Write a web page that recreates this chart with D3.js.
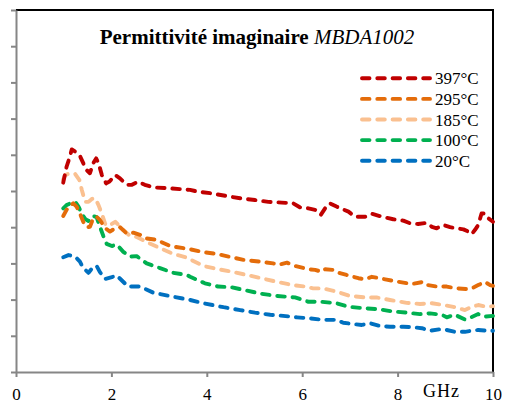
<!DOCTYPE html>
<html lang="fr">
<head>
<meta charset="utf-8">
<title>Permittivité imaginaire</title>
<script src="https://d3js.org/d3.v7.min.js"></script>
<style>
  body { margin: 0; background: #fff; }
</style>
</head>
<body>
<div id="chart"></div>
<script>
// frequency (GHz) / imaginary permittivity (arbitrary units, axis has no labels)
const s397 = [[0.99,5.23],[1.06,5.67],[1.12,5.91],[1.17,6.15],[1.24,6.09],[1.34,5.97],[1.41,5.77],[1.48,5.58],[1.55,5.49],[1.62,5.77],[1.68,5.90],[1.73,5.77],[1.80,5.44],[1.89,5.21],[1.96,5.26],[2.08,5.44],[2.18,5.35],[2.32,5.17],[2.43,5.17],[2.56,5.26],[2.70,5.17],[2.88,5.10],[3.16,5.08],[3.44,5.05],[3.65,5.03],[3.82,4.98],
  [4.07,4.94],[4.42,4.86],[4.70,4.80],[5.01,4.75],[5.29,4.70],[5.57,4.68],[5.81,4.66],[5.95,4.55],[6.13,4.52],[6.27,4.48],[6.39,4.34],[6.48,4.52],[6.58,4.66],[6.72,4.57],[6.86,4.49],[6.97,4.43],
  [7.11,4.29],[7.32,4.29],[7.46,4.37],[7.67,4.29],[7.91,4.22],[8.12,4.18],[8.26,4.11],[8.43,4.09],[8.61,4.12],[8.72,4.01],[8.82,3.97],[8.96,4.06],[9.10,4.00],[9.24,3.97],[9.38,3.94],[9.48,3.88],[9.55,3.81],[9.62,3.92],[9.69,4.06],[9.76,4.38],[9.83,4.38],[9.90,4.25],[10.0,4.15]];
const s295 = [[0.99,4.31],[1.06,4.48],[1.13,4.59],[1.20,4.66],[1.27,4.57],[1.34,4.38],[1.41,4.15],[1.48,4.00],[1.55,4.01],[1.62,4.25],[1.69,4.29],[1.76,4.20],[1.87,3.97],[1.97,3.88],[2.08,3.97],[2.18,4.00],[2.32,3.83],[2.46,3.85],[2.60,3.79],[2.74,3.69],[2.95,3.65],[3.23,3.48],[3.51,3.42],[3.65,3.39],[3.89,3.32],[4.21,3.26],[4.52,3.17],[4.80,3.09],[5.12,3.05],[5.39,3.00],[5.50,2.96],[5.68,3.02],[5.85,2.93],[6.13,2.84],[6.27,2.82],[6.41,2.77],[6.48,2.84],[6.65,2.82],[6.79,2.73],[6.93,2.68],[7.18,2.59],[7.32,2.56],[7.46,2.63],[7.74,2.56],[8.02,2.49],[8.30,2.43],[8.54,2.49],[8.64,2.40],[8.82,2.36],[9.03,2.36],[9.24,2.31],[9.45,2.29],[9.55,2.31],[9.69,2.40],[9.83,2.49],[9.94,2.40],[10.0,2.38]];
const s185 = [[0.99,5.32],[1.03,5.44],[1.13,5.49],[1.24,5.47],[1.33,5.30],[1.38,5.03],[1.45,4.70],[1.52,4.70],[1.59,4.78],[1.66,4.80],[1.73,4.61],[1.80,4.37],[1.87,4.09],[1.94,4.03],[2.08,4.15],[2.15,4.06],[2.25,3.92],[2.39,3.76],[2.53,3.73],[2.74,3.59],[3.02,3.42],[3.30,3.26],[3.58,3.16],[3.65,3.11],[3.93,2.93],[4.24,2.84],[4.52,2.77],[4.84,2.68],[5.15,2.59],[5.47,2.49],[5.81,2.40],[6.06,2.36],[6.23,2.31],[6.44,2.31],[6.72,2.22],[7.00,2.10],[7.32,2.06],[7.56,2.06],[7.84,1.99],[8.19,1.91],[8.47,1.88],[8.72,1.90],[8.96,1.85],[9.17,1.80],[9.41,1.71],[9.55,1.80],[9.69,1.85],[9.87,1.80],[10.0,1.82]];
const s100 = [[0.99,4.52],[1.06,4.61],[1.17,4.68],[1.24,4.70],[1.31,4.57],[1.38,4.37],[1.45,4.23],[1.52,4.17],[1.61,4.31],[1.69,4.28],[1.76,4.01],[1.83,3.76],[1.90,3.54],[2.01,3.48],[2.11,3.52],[2.25,3.32],[2.39,3.19],[2.53,3.20],[2.74,3.00],[3.02,2.87],[3.30,2.74],[3.58,2.68],[3.65,2.63],[3.96,2.45],[4.24,2.36],[4.52,2.34],[4.84,2.25],[5.15,2.16],[5.47,2.10],[5.85,2.06],[6.13,1.94],[6.41,1.94],[6.72,1.90],[6.97,1.80],[7.32,1.76],[7.63,1.73],[7.91,1.67],[8.19,1.64],[8.47,1.60],[8.68,1.62],[8.93,1.58],[9.03,1.51],[9.20,1.58],[9.41,1.45],[9.52,1.50],[9.69,1.60],[9.83,1.53],[10.0,1.55]];
const s20 = [[0.99,3.17],[1.10,3.23],[1.24,3.19],[1.34,3.05],[1.41,2.87],[1.52,2.74],[1.62,2.91],[1.69,2.93],[1.76,2.76],[1.87,2.57],[2.01,2.62],[2.11,2.67],[2.35,2.36],[2.60,2.36],[2.88,2.19],[3.30,2.08],[3.65,1.99],[3.93,1.90],[4.35,1.79],[4.70,1.71],[5.01,1.64],[5.33,1.58],[5.60,1.55],[5.89,1.51],[6.16,1.48],[6.44,1.44],[6.72,1.44],[6.86,1.36],[7.04,1.33],[7.25,1.30],[7.42,1.35],[7.63,1.27],[7.84,1.25],[8.12,1.25],[8.30,1.24],[8.51,1.21],[8.68,1.14],[8.89,1.18],[9.03,1.16],[9.20,1.11],[9.41,1.11],[9.55,1.14],[9.69,1.16],[9.87,1.14],[10.0,1.14]];

const labels = ["397°C", "295°C", "185°C", "100°C", "20°C"];
const colors = ["#C00000", "#E46C0A", "#FAC090", "#00B050", "#0070C0"];
const series = [s397, s295, s185, s100, s20];
const xTicks = [0, 2, 4, 6, 8, 10];

const W = 507, H = 405;
const serif = "'Liberation Serif', 'Times New Roman', serif";

const svg = d3.select("#chart").append("svg")
    .attr("width", W)
    .attr("height", H)
    .style("font-family", serif);

const x = d3.scaleLinear().domain([0, 10]).range([16, 493]);
const y = d3.scaleLinear().domain([0, 10]).range([372, 10]);

// plot frame (top / right in black)
svg.append("path")
    .attr("d", `M${x(0)},${y(10)}H${x(10)}V${y(0)}`)
    .attr("fill", "none")
    .attr("stroke", "#000")
    .attr("stroke-width", 2);

// y axis, no labels
const gy = svg.append("g")
    .attr("transform", `translate(${x(0)},0)`)
    .call(d3.axisLeft(y).ticks(10).tickSize(5).tickSizeOuter(0).tickFormat(""));

// x axis
const gx = svg.append("g")
    .attr("transform", `translate(0,${y(0)})`)
    .call(d3.axisBottom(x).tickValues(xTicks).tickSize(5).tickSizeOuter(0).tickPadding(11).tickFormat(d3.format("d")));

[gx, gy].forEach(g => {
    g.attr("font-family", null);
    g.select(".domain").attr("stroke", "#868686").attr("stroke-width", 2);
    g.selectAll(".tick line").attr("stroke", "#868686").attr("stroke-width", 2);
});
gx.selectAll(".tick text")
    .style("font-family", serif)
    .style("font-size", "17px")
    .attr("fill", "#000");

svg.append("text")
    .attr("x", 423)
    .attr("y", 397)
    .style("font-family", serif)
    .style("font-size", "18px")
    .attr("letter-spacing", 1)
    .text("GHz");

// curves
const line = d3.line()
    .x(d => x(d[0]))
    .y(d => y(d[1]));

svg.selectAll(".curve")
    .data(series.slice().reverse())
    .join("path")
    .attr("class", "curve")
    .attr("d", line)
    .attr("fill", "none")
    .attr("stroke", (d, i) => colors[colors.length - 1 - i])
    .attr("stroke-width", 3.9)
    .attr("stroke-dasharray", "7.5,7.8")
    .attr("stroke-linecap", "round")
    .attr("stroke-linejoin", "round");

// title
const title = svg.append("text")
    .attr("x", 257)
    .attr("y", 44)
    .attr("text-anchor", "middle")
    .style("font-family", serif)
    .style("font-size", "21px");
title.append("tspan").style("font-weight", "bold").text("Permittivité imaginaire ");
title.append("tspan").style("font-style", "italic").text("MBDA1002");

// legend
const leg = svg.selectAll(".leg")
    .data(labels)
    .join("g")
    .attr("class", "leg")
    .attr("transform", (d, i) => `translate(0,${78.3 + i * 20.6})`);
leg.append("line")
    .attr("x1", 362).attr("x2", 430)
    .attr("stroke", (d, i) => colors[i])
    .attr("stroke-width", 3.9)
    .attr("stroke-dasharray", "7.5,7.8")
    .attr("stroke-linecap", "round");
leg.append("text")
    .attr("x", 435)
    .attr("y", 6)
    .style("font-family", serif)
    .style("font-size", "17px")
    .text(d => d);
</script>
</body>
</html>
